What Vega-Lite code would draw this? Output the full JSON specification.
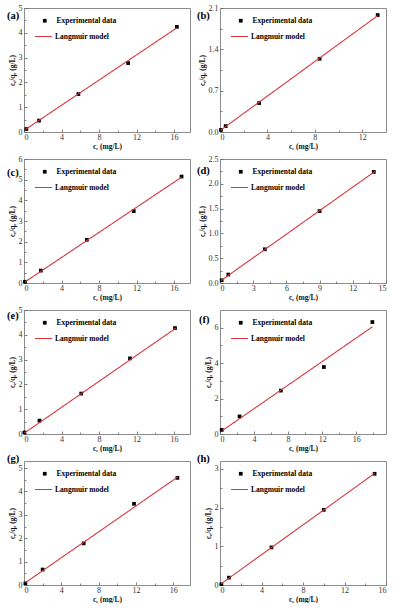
{
"$schema":"https://vega.github.io/schema/vega-lite/v6.json",
"padding":{"left":6,"top":3,"right":0,"bottom":0},
"background":"white",
"datasets":{
"pa":[{"x":0.25,"y":0.12},{"x":1.6,"y":0.46},{"x":5.8,"y":1.53},{"x":11.1,"y":2.78},{"x":16.3,"y":4.24}],
"la":[{"x":0.15,"y":0.1},{"x":16.3,"y":4.2}],
"pb":[{"x":0.08,"y":0.035},{"x":0.48,"y":0.1},{"x":3.3,"y":0.49},{"x":8.4,"y":1.24},{"x":13.3,"y":1.98}],
"lb":[{"x":0.05,"y":0.03},{"x":13.3,"y":1.97}],
"pc":[{"x":0.1,"y":0.06},{"x":1.8,"y":0.6},{"x":6.7,"y":2.09},{"x":11.7,"y":3.48},{"x":16.8,"y":5.15}],
"lc":[{"x":0.1,"y":0.05},{"x":16.8,"y":5.12}],
"pd":[{"x":0.15,"y":0.055},{"x":0.75,"y":0.17},{"x":4.05,"y":0.68},{"x":9.0,"y":1.45},{"x":13.9,"y":2.24}],
"ld":[{"x":0.1,"y":0.05},{"x":14.0,"y":2.25}],
"pe":[{"x":0.05,"y":0.06},{"x":1.65,"y":0.54},{"x":6.1,"y":1.63},{"x":11.3,"y":3.05},{"x":16.1,"y":4.27}],
"le":[{"x":0.05,"y":0.04},{"x":16.2,"y":4.27}],
"pf":[{"x":0.2,"y":0.23},{"x":2.3,"y":0.99},{"x":7.15,"y":2.45},{"x":12.2,"y":3.78},{"x":17.9,"y":6.32}],
"lf":[{"x":0.3,"y":0.2},{"x":17.9,"y":6.05}],
"pg":[{"x":0.15,"y":0.07},{"x":2.0,"y":0.66},{"x":6.4,"y":1.78},{"x":11.8,"y":3.47},{"x":16.45,"y":4.58}],
"lg":[{"x":0.15,"y":0.1},{"x":16.5,"y":4.62}],
"ph":[{"x":0.13,"y":0.02},{"x":0.86,"y":0.19},{"x":4.96,"y":0.97},{"x":10.0,"y":1.94},{"x":14.9,"y":2.87}],
"lh":[{"x":0.1,"y":0.03},{"x":14.9,"y":2.88}]
},
"columns":2,
"spacing":{"row":27,"column":30},
"bounds":"flush",
"resolve":{"scale":{"shape":"independent","strokeDash":"independent"},"legend":{"shape":"independent","strokeDash":"independent"}},
"concat":[
{"width":166,"height":124,"title":{"text":"(a)","dx":-17,"dy":21},
"resolve":{"axis":{"x":"independent","y":"independent"}},
"layer":[
{"data":{"name":"pa"},"mark":{"type":"point","filled":true,"color":"#000","size":14,"opacity":1},
"encoding":{"x":{"field":"x","type":"quantitative","scale":{"domain":[0,17.7],"nice":false,"zero":false},"axis":{"values":[0,4,8,12,16],"title":"cₑ (mg/L)"}},
"y":{"field":"y","type":"quantitative","scale":{"domain":[0,5],"nice":false,"zero":false},"axis":{"values":[0,1,2,3,4,5],"title":"cₑ/qₑ (g/L)"}},
"shape":{"datum":"Experimental data","scale":{"range":["square"]},"legend":{"orient":"none","legendX":17,"legendY":9,"title":null,"symbolSize":14,"symbolFillColor":"#000","symbolStrokeColor":"#000","labelOffset":8}}}},
{"data":{"name":"la"},"mark":{"type":"line","color":"#d7383d","strokeWidth":1.1},
"encoding":{"x":{"field":"x","type":"quantitative","axis":{"values":[2,6,10,14],"labels":false,"title":null,"tickSize":-2,"orient":"bottom"}},
"y":{"field":"y","type":"quantitative","axis":{"values":[0.5,1.5,2.5,3.5,4.5],"labels":false,"title":null,"tickSize":-2,"orient":"left"}},
"strokeDash":{"datum":"Langmuir model","scale":{"range":[[1,0]]},"legend":{"orient":"none","legendX":10,"legendY":19,"title":null,"symbolSize":289,"symbolStrokeColor":"#d7383d","symbolStrokeWidth":1.2,"labelOffset":2}}}}
]},
{"width":166,"height":124,"title":{"text":"(b)","dx":-23,"dy":21},
"resolve":{"axis":{"x":"independent","y":"independent"}},
"layer":[
{"data":{"name":"pb"},"mark":{"type":"point","filled":true,"color":"#000","size":14,"opacity":1},
"encoding":{"x":{"field":"x","type":"quantitative","scale":{"domain":[0,14],"nice":false,"zero":false},"axis":{"values":[0,4,8,12],"title":"cₑ (mg/L)"}},
"y":{"field":"y","type":"quantitative","scale":{"domain":[0,2.1],"nice":false,"zero":false},"axis":{"values":[0,0.7,1.4,2.1],"format":".1f","title":"cₑ/qₑ (g/L)"}},
"shape":{"datum":"Experimental data","scale":{"range":["square"]},"legend":{"orient":"none","legendX":17,"legendY":9,"title":null,"symbolSize":14,"symbolFillColor":"#000","symbolStrokeColor":"#000","labelOffset":8}}}},
{"data":{"name":"lb"},"mark":{"type":"line","color":"#d7383d","strokeWidth":1.1},
"encoding":{"x":{"field":"x","type":"quantitative","axis":{"values":[2,6,10],"labels":false,"title":null,"tickSize":-2,"orient":"bottom"}},
"y":{"field":"y","type":"quantitative","axis":{"values":[0.35,1.05,1.75],"labels":false,"title":null,"tickSize":-2,"orient":"left"}},
"strokeDash":{"datum":"Langmuir model","scale":{"range":[[1,0]]},"legend":{"orient":"none","legendX":10,"legendY":19,"title":null,"symbolSize":289,"symbolStrokeColor":"#d7383d","symbolStrokeWidth":1.2,"labelOffset":2}}}}
]},
{"width":166,"height":124,"title":{"text":"(c)","dx":-17,"dy":27},
"resolve":{"axis":{"x":"independent","y":"independent"}},
"layer":[
{"data":{"name":"pc"},"mark":{"type":"point","filled":true,"color":"#000","size":14,"opacity":1},
"encoding":{"x":{"field":"x","type":"quantitative","scale":{"domain":[0,17.7],"nice":false,"zero":false},"axis":{"values":[0,4,8,12,16],"title":"cₑ (mg/L)"}},
"y":{"field":"y","type":"quantitative","scale":{"domain":[0,6],"nice":false,"zero":false},"axis":{"values":[0,1,2,3,4,5,6],"title":"cₑ/qₑ (g/L)"}},
"shape":{"datum":"Experimental data","scale":{"range":["square"]},"legend":{"orient":"none","legendX":17,"legendY":9,"title":null,"symbolSize":14,"symbolFillColor":"#000","symbolStrokeColor":"#000","labelOffset":8}}}},
{"data":{"name":"lc"},"mark":{"type":"line","color":"#d7383d","strokeWidth":1.1},
"encoding":{"x":{"field":"x","type":"quantitative","axis":{"values":[2,6,10,14],"labels":false,"title":null,"tickSize":-2,"orient":"bottom"}},
"y":{"field":"y","type":"quantitative","axis":{"values":[0.5,1.5,2.5,3.5,4.5,5.5],"labels":false,"title":null,"tickSize":-2,"orient":"left"}},
"strokeDash":{"datum":"Langmuir model","scale":{"range":[[1,0]]},"legend":{"orient":"none","legendX":10,"legendY":19,"title":null,"symbolSize":289,"symbolStrokeColor":"#d7383d","symbolStrokeWidth":1.2,"labelOffset":2}}}}
]},
{"width":166,"height":124,"title":{"text":"(d)","dx":-23,"dy":25},
"resolve":{"axis":{"x":"independent","y":"independent"}},
"layer":[
{"data":{"name":"pd"},"mark":{"type":"point","filled":true,"color":"#000","size":14,"opacity":1},
"encoding":{"x":{"field":"x","type":"quantitative","scale":{"domain":[0,15],"nice":false,"zero":false},"axis":{"values":[0,3,6,9,12,15],"title":"cₑ (mg/L)"}},
"y":{"field":"y","type":"quantitative","scale":{"domain":[0,2.5],"nice":false,"zero":false},"axis":{"values":[0,0.5,1,1.5,2,2.5],"format":".1f","title":"cₑ/qₑ (g/L)"}},
"shape":{"datum":"Experimental data","scale":{"range":["square"]},"legend":{"orient":"none","legendX":17,"legendY":9,"title":null,"symbolSize":14,"symbolFillColor":"#000","symbolStrokeColor":"#000","labelOffset":8}}}},
{"data":{"name":"ld"},"mark":{"type":"line","color":"#d7383d","strokeWidth":1.1},
"encoding":{"x":{"field":"x","type":"quantitative","axis":{"values":[1.5,4.5,7.5,10.5,13.5],"labels":false,"title":null,"tickSize":-2,"orient":"bottom"}},
"y":{"field":"y","type":"quantitative","axis":{"values":[0.25,0.75,1.25,1.75,2.25],"labels":false,"title":null,"tickSize":-2,"orient":"left"}},
"strokeDash":{"datum":"Langmuir model","scale":{"range":[[1,0]]},"legend":{"orient":"none","legendX":10,"legendY":19,"title":null,"symbolSize":289,"symbolStrokeColor":"#d7383d","symbolStrokeWidth":1.2,"labelOffset":2}}}}
]},
{"width":166,"height":124,"title":{"text":"(e)","dx":-17,"dy":19},
"resolve":{"axis":{"x":"independent","y":"independent"}},
"layer":[
{"data":{"name":"pe"},"mark":{"type":"point","filled":true,"color":"#000","size":14,"opacity":1},
"encoding":{"x":{"field":"x","type":"quantitative","scale":{"domain":[0,17.7],"nice":false,"zero":false},"axis":{"values":[0,4,8,12,16],"title":"cₑ (mg/L)"}},
"y":{"field":"y","type":"quantitative","scale":{"domain":[0,5],"nice":false,"zero":false},"axis":{"values":[0,1,2,3,4,5],"title":"cₑ/qₑ (g/L)"}},
"shape":{"datum":"Experimental data","scale":{"range":["square"]},"legend":{"orient":"none","legendX":17,"legendY":9,"title":null,"symbolSize":14,"symbolFillColor":"#000","symbolStrokeColor":"#000","labelOffset":8}}}},
{"data":{"name":"le"},"mark":{"type":"line","color":"#d7383d","strokeWidth":1.1},
"encoding":{"x":{"field":"x","type":"quantitative","axis":{"values":[2,6,10,14],"labels":false,"title":null,"tickSize":-2,"orient":"bottom"}},
"y":{"field":"y","type":"quantitative","axis":{"values":[0.5,1.5,2.5,3.5,4.5],"labels":false,"title":null,"tickSize":-2,"orient":"left"}},
"strokeDash":{"datum":"Langmuir model","scale":{"range":[[1,0]]},"legend":{"orient":"none","legendX":10,"legendY":19,"title":null,"symbolSize":289,"symbolStrokeColor":"#d7383d","symbolStrokeWidth":1.2,"labelOffset":2}}}}
]},
{"width":166,"height":124,"title":{"text":"(f)","dx":-21,"dy":19},
"resolve":{"axis":{"x":"independent","y":"independent"}},
"layer":[
{"data":{"name":"pf"},"mark":{"type":"point","filled":true,"color":"#000","size":14,"opacity":1},
"encoding":{"x":{"field":"x","type":"quantitative","scale":{"domain":[0,19.5],"nice":false,"zero":false},"axis":{"values":[0,4,8,12,16],"title":"cₑ (mg/L)"}},
"y":{"field":"y","type":"quantitative","scale":{"domain":[0,7],"nice":false,"zero":false},"axis":{"values":[0,2,4,6],"title":"cₑ/qₑ (g/L)"}},
"shape":{"datum":"Experimental data","scale":{"range":["square"]},"legend":{"orient":"none","legendX":17,"legendY":9,"title":null,"symbolSize":14,"symbolFillColor":"#000","symbolStrokeColor":"#000","labelOffset":8}}}},
{"data":{"name":"lf"},"mark":{"type":"line","color":"#d7383d","strokeWidth":1.1},
"encoding":{"x":{"field":"x","type":"quantitative","axis":{"values":[2,6,10,14,18],"labels":false,"title":null,"tickSize":-2,"orient":"bottom"}},
"y":{"field":"y","type":"quantitative","axis":{"values":[1,3,5],"labels":false,"title":null,"tickSize":-2,"orient":"left"}},
"strokeDash":{"datum":"Langmuir model","scale":{"range":[[1,0]]},"legend":{"orient":"none","legendX":10,"legendY":19,"title":null,"symbolSize":289,"symbolStrokeColor":"#d7383d","symbolStrokeWidth":1.2,"labelOffset":2}}}}
]},
{"width":166,"height":124,"title":{"text":"(g)","dx":-17,"dy":7},
"resolve":{"axis":{"x":"independent","y":"independent"}},
"layer":[
{"data":{"name":"pg"},"mark":{"type":"point","filled":true,"color":"#000","size":14,"opacity":1},
"encoding":{"x":{"field":"x","type":"quantitative","scale":{"domain":[0,17.8],"nice":false,"zero":false},"axis":{"values":[0,4,8,12,16],"title":"cₑ (mg/L)"}},
"y":{"field":"y","type":"quantitative","scale":{"domain":[0,5.3],"nice":false,"zero":false},"axis":{"values":[0,1,2,3,4,5],"title":"cₑ/qₑ (g/L)"}},
"shape":{"datum":"Experimental data","scale":{"range":["square"]},"legend":{"orient":"none","legendX":17,"legendY":9,"title":null,"symbolSize":14,"symbolFillColor":"#000","symbolStrokeColor":"#000","labelOffset":8}}}},
{"data":{"name":"lg"},"mark":{"type":"line","color":"#d7383d","strokeWidth":1.1},
"encoding":{"x":{"field":"x","type":"quantitative","axis":{"values":[2,6,10,14],"labels":false,"title":null,"tickSize":-2,"orient":"bottom"}},
"y":{"field":"y","type":"quantitative","axis":{"values":[0.5,1.5,2.5,3.5,4.5],"labels":false,"title":null,"tickSize":-2,"orient":"left"}},
"strokeDash":{"datum":"Langmuir model","scale":{"range":[[1,0]]},"legend":{"orient":"none","legendX":10,"legendY":19,"title":null,"symbolSize":289,"symbolStrokeColor":"#d7383d","symbolStrokeWidth":1.2,"labelOffset":2}}}}
]},
{"width":166,"height":124,"title":{"text":"(h)","dx":-23,"dy":7},
"resolve":{"axis":{"x":"independent","y":"independent"}},
"layer":[
{"data":{"name":"ph"},"mark":{"type":"point","filled":true,"color":"#000","size":14,"opacity":1},
"encoding":{"x":{"field":"x","type":"quantitative","scale":{"domain":[0,16],"nice":false,"zero":false},"axis":{"values":[0,4,8,12,16],"title":"cₑ (mg/L)"}},
"y":{"field":"y","type":"quantitative","scale":{"domain":[0,3.2],"nice":false,"zero":false},"axis":{"values":[0,1,2,3],"title":"cₑ/qₑ (g/L)"}},
"shape":{"datum":"Experimental data","scale":{"range":["square"]},"legend":{"orient":"none","legendX":17,"legendY":9,"title":null,"symbolSize":14,"symbolFillColor":"#000","symbolStrokeColor":"#000","labelOffset":8}}}},
{"data":{"name":"lh"},"mark":{"type":"line","color":"#d7383d","strokeWidth":1.1},
"encoding":{"x":{"field":"x","type":"quantitative","axis":{"values":[2,6,10,14],"labels":false,"title":null,"tickSize":-2,"orient":"bottom"}},
"y":{"field":"y","type":"quantitative","axis":{"values":[0.5,1.5,2.5],"labels":false,"title":null,"tickSize":-2,"orient":"left"}},
"strokeDash":{"datum":"Langmuir model","scale":{"range":[[1,0]]},"legend":{"orient":"none","legendX":10,"legendY":19,"title":null,"symbolSize":289,"symbolStrokeColor":"#d7383d","symbolStrokeWidth":1.2,"labelOffset":2}}}}
]}
],
"config":{
"view":{"stroke":"#8c8c8c","strokeWidth":1},
"font":"Liberation Serif",
"axis":{"domain":false,"grid":false,"tickColor":"#666","tickSize":-3,"tickWidth":0.8,"labelFont":"Liberation Serif","labelFontSize":8,"labelColor":"#333","labelPadding":5,"titleFont":"Liberation Serif","titleFontSize":7.5,"titleFontWeight":"bold","titleColor":"#111","titlePadding":2},
"axisBottom":{"labelPadding":4,"titlePadding":1},
"legend":{"labelFont":"Liberation Serif","labelFontSize":7.5,"labelFontWeight":"bold","labelColor":"#000","padding":0,"rowPadding":0},
"title":{"font":"Liberation Serif","fontSize":10.5,"fontWeight":"bold","color":"#000","anchor":"start","frame":"group","offset":0,"baseline":"middle"}
}
}
